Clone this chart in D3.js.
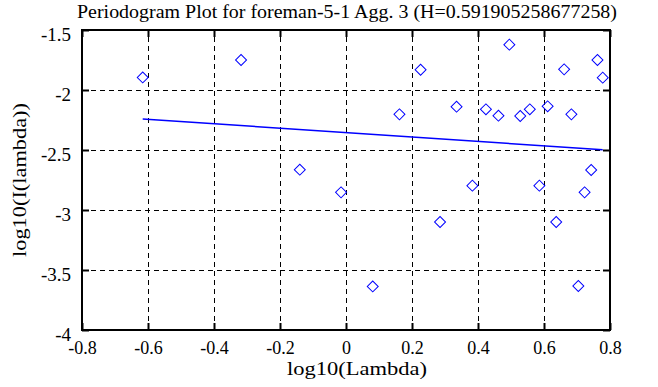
<!DOCTYPE html>
<html>
<head>
<meta charset="utf-8">
<script src="https://cdn.jsdelivr.net/npm/d3@7/dist/d3.min.js"></script>
<style>
  body { margin: 0; background: #fff; }
  svg text { font-family: "Liberation Serif", "DejaVu Serif", "Times New Roman", Times, serif; fill: #000; }
  .axis path { display: none; }
  .axis line { stroke: #000; stroke-width: 2; }
  .axis text { font-size: 19px; }
  .grid line { stroke: #000; stroke-width: 1; stroke-dasharray: 5,4; }
  .grid path { display: none; }
</style>
</head>
<body>
<div id="chart"></div>
<script>
// Data
const titleText = 'Periodogram Plot for foreman-5-1 Agg. 3 (H=0.591905258677258)';
const xLabel = 'log10(Lambda)';
const yLabel = 'log10(I(lambda))';

const logLambda = [-0.616, -0.318, -0.140, -0.015, 0.081, 0.162, 0.226, 0.285, 0.335, 0.383,
                   0.424, 0.462, 0.495, 0.528, 0.557, 0.586, 0.611, 0.637, 0.661, 0.683,
                   0.704, 0.723, 0.743, 0.762, 0.778];
const logI = [-1.895, -1.750, -2.664, -2.853, -3.637, -2.203, -1.831, -3.100, -2.139, -2.797,
              -2.161, -2.214, -1.622, -2.217, -2.161, -2.797, -2.136, -3.100, -1.828, -2.203,
              -3.633, -2.853, -2.667, -1.750, -1.897];

// least squares fit line end points
const fitX = [-0.616, 0.778];
const fitY = [-2.242, -2.498];

const xTicks = [-0.8, -0.6, -0.4, -0.2, 0, 0.2, 0.4, 0.6, 0.8];
const yTicks = [-4, -3.5, -3, -2.5, -2, -1.5];

const width = 658, height = 387;
const margin = {top: 30, right: 48, bottom: 57, left: 82};
const w = width - margin.left - margin.right;
const h = height - margin.top - margin.bottom;
const serif = '"Liberation Serif", "DejaVu Serif", "Times New Roman", serif';

const svg = d3.select('#chart').append('svg')
    .attr('width', width)
    .attr('height', height);

const g = svg.append('g')
    .attr('transform', 'translate(' + margin.left + ',' + margin.top + ')');

const x = d3.scaleLinear().domain([-0.8, 0.8]).range([0, w]);
const y = d3.scaleLinear().domain([-4, -1.5]).range([h, 0]);

// dashed grid
g.append('g')
    .attr('class', 'grid')
    .attr('transform', 'translate(0,' + h + ')')
    .call(d3.axisBottom(x).tickValues(xTicks.slice(1, -1)).tickSize(-h).tickFormat(''));
g.append('g')
    .attr('class', 'grid')
    .call(d3.axisLeft(y).tickValues(yTicks.slice(1, -1)).tickSize(-w).tickFormat(''));

// axes with inward ticks
const fmt = d => d === 0 ? '0' : String(d);
const xAx = g.append('g')
    .attr('class', 'axis')
    .attr('transform', 'translate(0,' + h + ')')
    .call(d3.axisBottom(x).tickValues(xTicks).tickSizeInner(-7).tickSizeOuter(0).tickPadding(11).tickFormat(fmt));
xAx.selectAll('text').style('font-size', '18px');
g.append('g')
    .attr('class', 'axis')
    .call(d3.axisTop(x).tickValues(xTicks).tickSizeInner(-7).tickSizeOuter(0).tickFormat(''));
const yAx = g.append('g')
    .attr('class', 'axis')
    .call(d3.axisLeft(y).tickValues(yTicks).tickSizeInner(-7).tickSizeOuter(0).tickPadding(11).tickFormat(fmt));
yAx.selectAll('text').attr('dy', '0.55em');
g.append('g')
    .attr('class', 'axis')
    .attr('transform', 'translate(' + w + ',0)')
    .call(d3.axisRight(y).tickValues(yTicks).tickSizeInner(-7).tickSizeOuter(0).tickFormat(''));
svg.selectAll('.axis').attr('font-family', null);
svg.selectAll('.axis text').style('font-family', serif);

// frame
g.append('rect')
    .attr('x', 0).attr('y', 0)
    .attr('width', w).attr('height', h)
    .attr('fill', 'none')
    .attr('stroke', '#000')
    .attr('stroke-width', 2);

// fit line
const fit = fitX.map((v, i) => [v, fitY[i]]);
g.append('path')
    .datum(fit)
    .attr('fill', 'none')
    .attr('stroke', '#0000ff')
    .attr('stroke-width', 1.5)
    .attr('d', d3.line().x(d => x(d[0])).y(d => y(d[1])));

// diamonds
const pts = logLambda.map((v, i) => ({x: v, y: logI[i]}));
const diamond = d3.symbol().type(d3.symbolSquare).size(60);
g.selectAll('.pt')
    .data(pts)
    .join('path')
    .attr('class', 'pt')
    .attr('d', diamond)
    .attr('transform', d => 'translate(' + x(d.x) + ',' + y(d.y) + ') rotate(45)')
    .attr('fill', 'none')
    .attr('stroke', '#0000ff')
    .attr('stroke-width', 1);

// labels
svg.append('text')
    .attr('x', 347).attr('y', 18)
    .attr('text-anchor', 'middle')
    .attr('textLength', 540)
    .attr('lengthAdjust', 'spacingAndGlyphs')
    .style('font-size', '19px')
    .text(titleText);
svg.append('text')
    .attr('x', 357).attr('y', 375)
    .attr('text-anchor', 'middle')
    .attr('textLength', 140)
    .attr('lengthAdjust', 'spacingAndGlyphs')
    .style('font-size', '18px')
    .text(xLabel);
svg.append('text')
    .attr('transform', 'translate(26,180) rotate(-90)')
    .attr('text-anchor', 'middle')
    .attr('textLength', 154)
    .attr('lengthAdjust', 'spacingAndGlyphs')
    .style('font-size', '18px')
    .text(yLabel);
</script>
</body>
</html>
